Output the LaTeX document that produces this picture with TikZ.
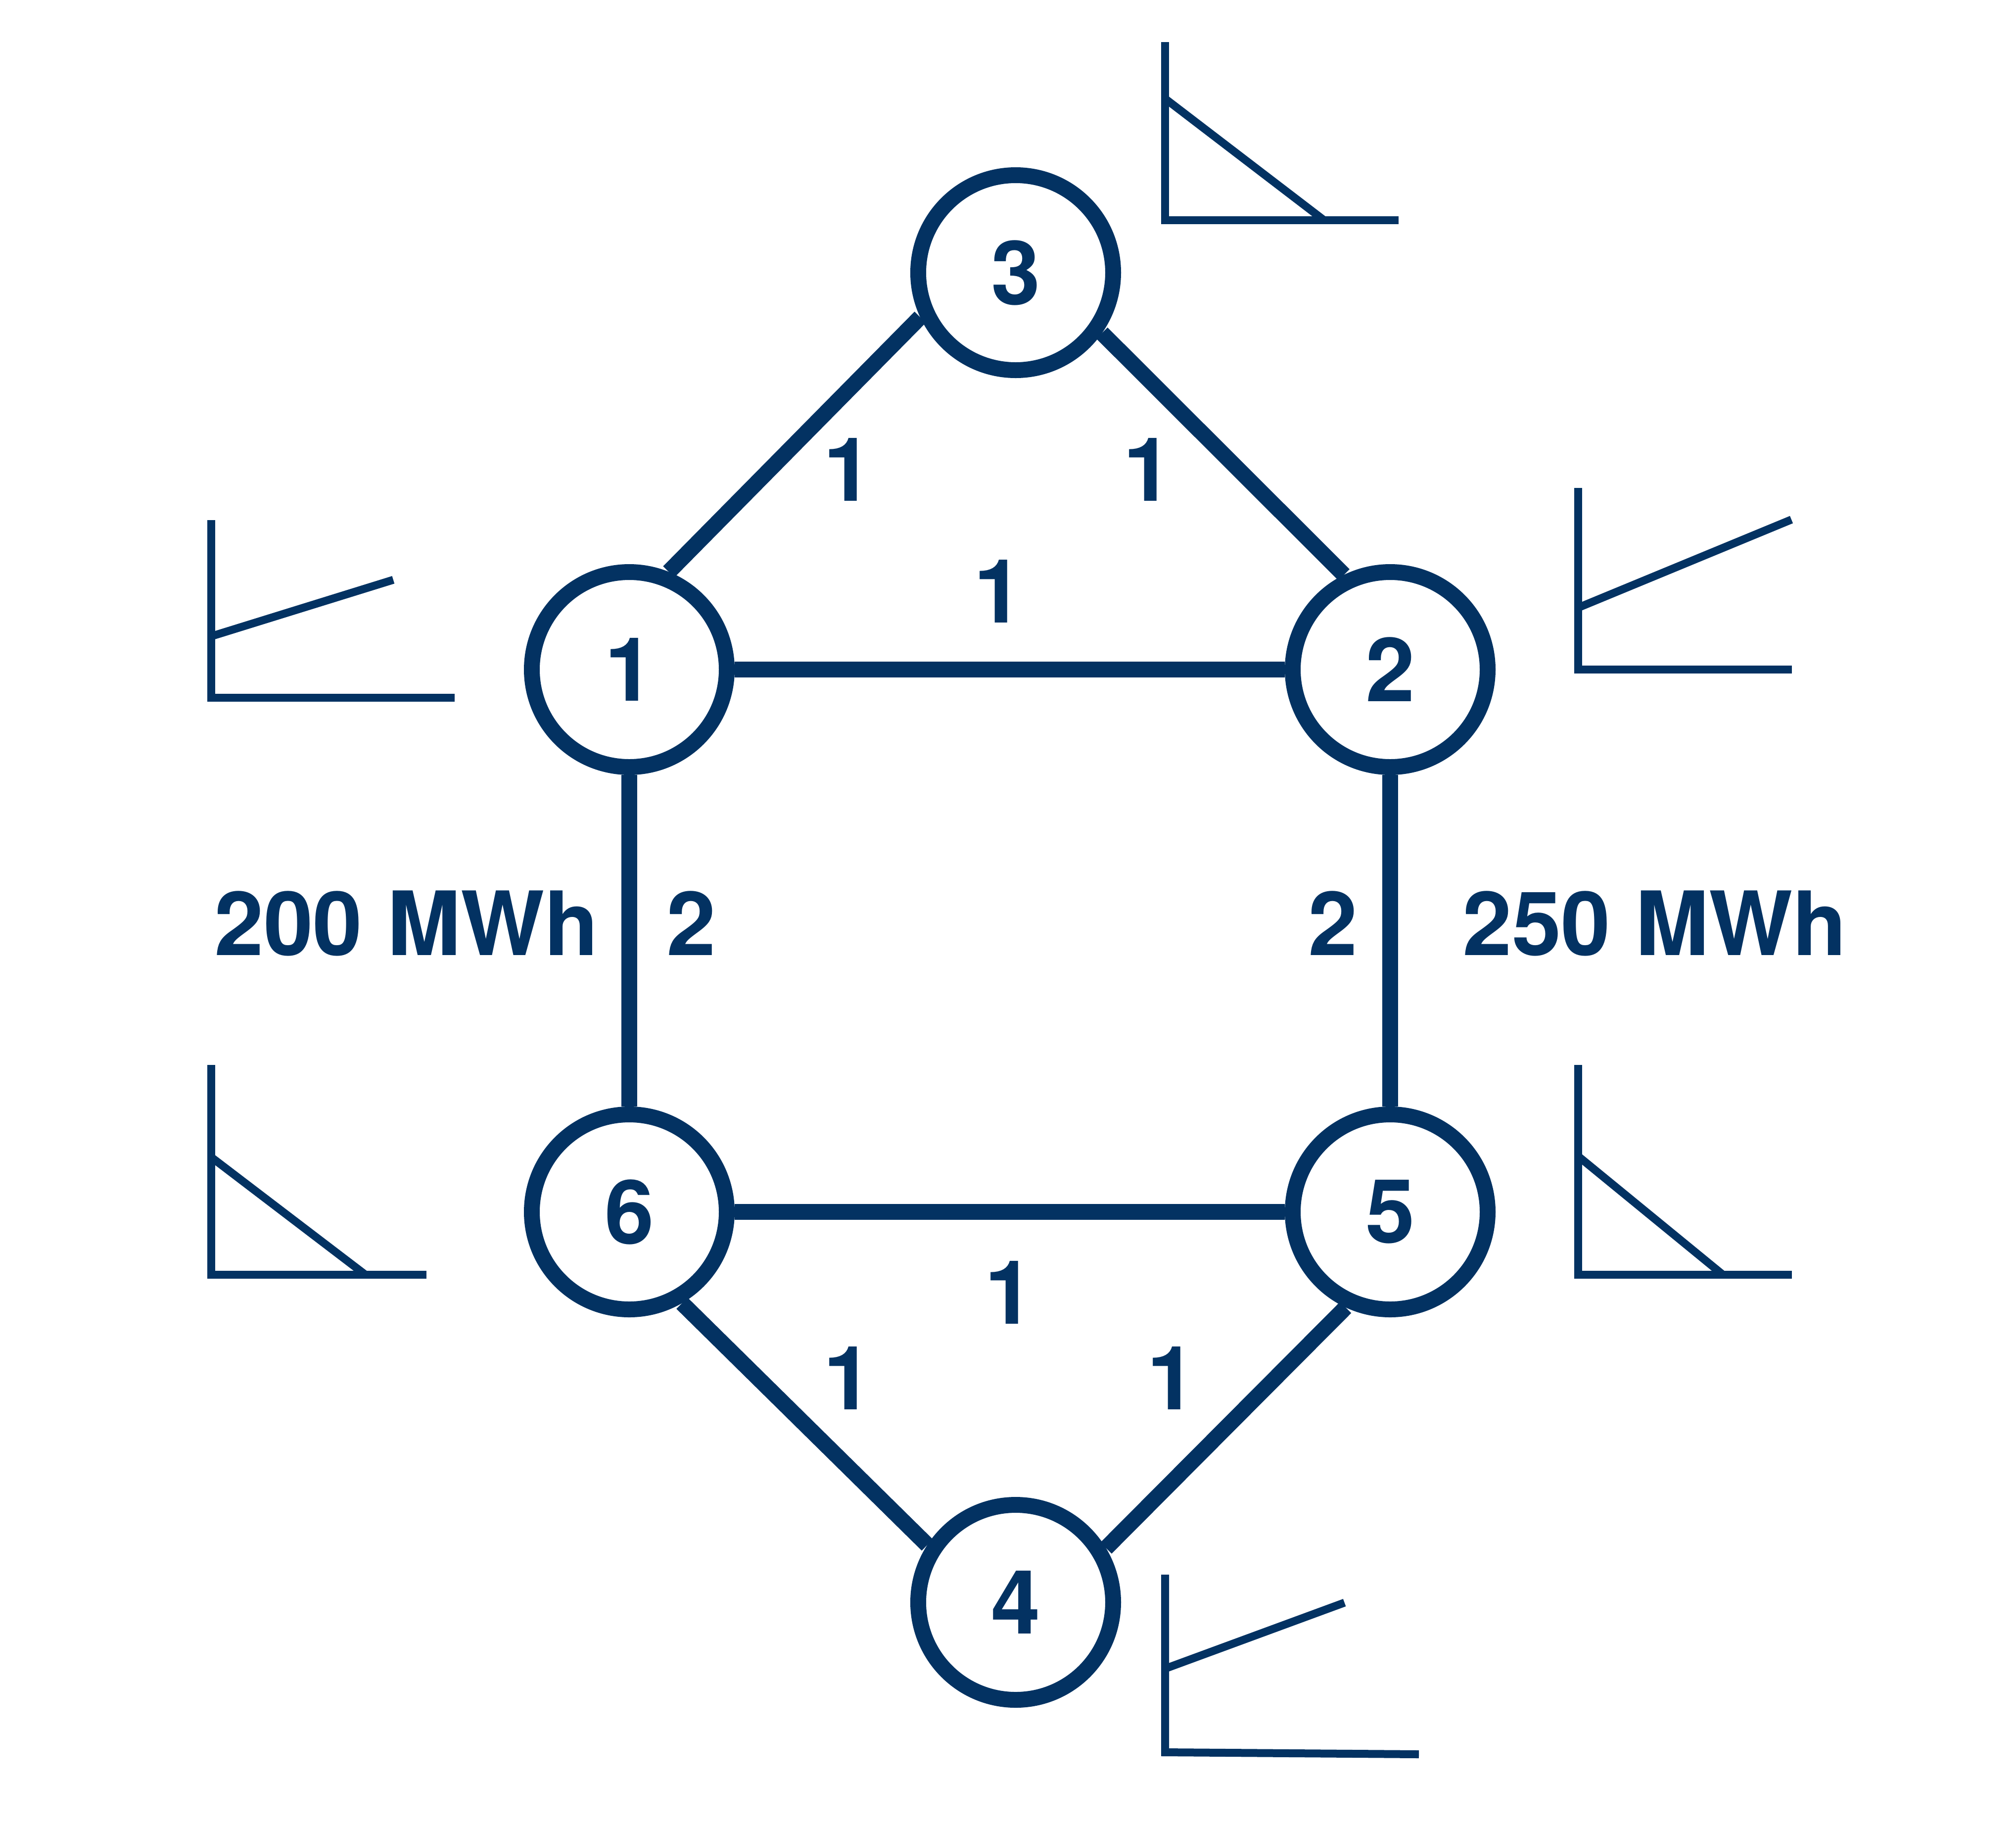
\documentclass[tikz,border=0pt]{standalone}
\usepackage{fontspec}
\setmainfont{TeX Gyre Heros}
\usepackage{xcolor}
\usepackage{tikz}
\definecolor{azul}{RGB}{3,50,98}
\tikzset{
	% barras
	barra/.style={
		circle,
		draw=azul,
		line width=0.32cm,
		minimum size=3.94cm,
		inner sep=0pt,
		text=azul,
		font=\fontsize{51}{60}\selectfont\bfseries
	}, %
	% linhas
	linha/.style={
		azul,
		line width=0.32cm
	}, %
	% curvas
	eixo/.style={
		azul,
		line width=0.16cm
	}, %
	% textos
	rotulo/.style={
		text=azul,
		inner sep=0pt,
		font=\fontsize{51}{60}\selectfont\bfseries
	} %
}

\begin{document}
\begin{tikzpicture}
			\useasboundingbox (0,0) rectangle (40.75,-36.91);
			
			% barras
			\node[barra] (n1) at (12.72,-13.53) {1};
			\node[barra] (n2) at (28.10,-13.53) {2};
			\node[barra] (n3) at (20.53,-5.51) {3};
			\node[barra] (n4) at (20.53,-32.38) {4};
			\node[barra] (n5) at (28.10,-24.49) {5};
			\node[barra] (n6) at (12.72,-24.49) {6};
			
			% linhas
			\draw[linha] (n1.68)--(n3.205);
			\draw[linha] (n3.325)--(n2.116);
			\draw[linha] (n1)--(n2);
			\draw[linha] (n1)--(n6);
			\draw[linha] (n2)--(n5);
			\draw[linha] (n6)--(n5);
			\draw[linha] (n6.300)--(n4.147.5);
			\draw[linha] (n5.245)--(n4.31);
			
			% capacidades
			\node[rotulo] (l13) at (17.14,-9.49) {1};
			\node[rotulo] (l32) at (23.20,-9.49) {1};
			\node[rotulo] (l12) at (20.18,-11.95) {1};
			\node[rotulo] (l16) at (13.97,-18.66) {2};
			\node[rotulo] (l25) at (26.94,-18.66) {2};
			\node[rotulo] (l65) at (20.40,-26.12) {1};
			\node[rotulo] (l64) at (17.14,-27.85) {1};
			\node[rotulo] (l54) at (23.68,-27.85) {1};
			
			% estoques
			\node[rotulo] (e1) at (8.22,-18.66) {200 MWh};
			\node[rotulo] (e2) at (33.45,-18.66) {250 MWh};
			
			% curva 1
			\draw[eixo] (4.27,-10.51)--(4.27,-14.095)--(9.185,-14.095);
			\draw[eixo] (4.27,-12.858)--(7.949,-11.717);
			
			% curva 2
			\draw[eixo] (31.90,-9.86)--(31.90,-13.527)--(36.22,-13.527);
			\draw[eixo] (31.90,-12.28)--(36.21,-10.50);
			
			% curva 3
			\draw[eixo] (23.55,-0.853)--(23.55,-4.448)--(28.27,-4.448);
			\draw[eixo] (23.55,-1.993)--(26.76,-4.448);
			
			% curva 4
			\draw[eixo] (23.55,-31.82)--(23.55,-35.41)--(28.68,-35.45);
			\draw[eixo] (23.55,-33.72)--(27.176,-32.386);
			
			% curva 5
			\draw[eixo] (31.90,-21.52)--(31.90,-25.755)--(36.22,-25.755);
			\draw[eixo] (31.90,-23.365)--(34.82,-25.755);
			
			% curva 6
			\draw[eixo] (4.27,-21.52)--(4.27,-25.76)--(8.62,-25.76);
			\draw[eixo] (4.27,-23.384)--(7.387,-25.76);
		\end{tikzpicture}
\end{document}
